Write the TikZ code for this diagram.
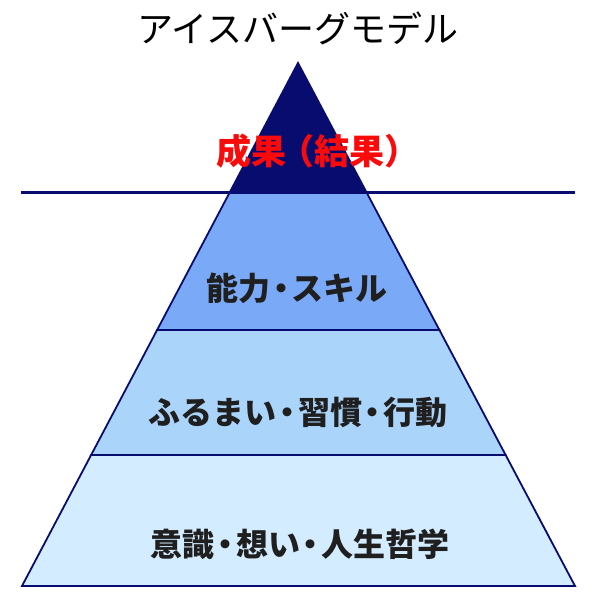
\documentclass[tikz,border=0pt]{standalone}
\usepackage{fontspec}
\setmainfont{Noto Sans CJK JP}
\usetikzlibrary{calc}
\definecolor{navy}{RGB}{8,12,110}
\definecolor{layerA}{RGB}{122,170,247}
\definecolor{layerB}{RGB}{170,212,250}
\definecolor{layerC}{RGB}{212,236,255}
\definecolor{redtxt}{RGB}{250,10,10}
\newcommand\kdot{\hspace{-0.17em}・\hspace{-0.17em}}
\newcommand\lpar{\hspace{-0.22em}（}
\newcommand\rpar{）\hspace{-0.22em}}
\begin{document}
\begin{tikzpicture}[x=1pt,y=1pt,
  layer/.style={draw=navy,line width=1.8pt,line join=miter},
  label/.style={font=\fontsize{32}{34}\selectfont\bfseries,text=black!88,inner sep=0pt},
  title/.style={font=\fontsize{36}{38}\selectfont,text=black,inner sep=0pt}]
\useasboundingbox (0,0) rectangle (595,601);
\coordinate (A) at (298,538);
\coordinate (BL) at (22,15);
\coordinate (BR) at (575,15);
\coordinate (L1) at ($(A)!0.2486!(BL)$);
\coordinate (R1) at ($(A)!0.2486!(BR)$);
\coordinate (L2) at ($(A)!0.5105!(BL)$);
\coordinate (R2) at ($(A)!0.5105!(BR)$);
\coordinate (L3) at ($(A)!0.7495!(BL)$);
\coordinate (R3) at ($(A)!0.7495!(BR)$);
% layers
\filldraw[layer,fill=navy] (A) -- (R1) -- (L1) -- cycle;
\filldraw[layer,fill=layerA] (L1) -- (R1) -- (R2) -- (L2) -- cycle;
\filldraw[layer,fill=layerB] (L2) -- (R2) -- (R3) -- (L3) -- cycle;
\filldraw[layer,fill=layerC] (L3) -- (R3) -- (BR) -- (BL) -- cycle;
% water line
\coordinate (WL) at (21,408);
\coordinate (WR) at (575,408);
\draw[navy,line width=3pt] (WL) -- (WR);
% texts
\node[title] (t) at (298,573) {アイスバーグモデル};
\node[font=\fontsize{35}{37}\selectfont\bfseries,text=redtxt,inner sep=0pt] (r) at (318,450) {成果\lpar 結果\rpar};
\node[label] (n1) at (297,313) {能力\kdot スキル};
\node[label] (n2) at (298,189) {ふるまい\kdot 習慣\kdot 行動};
\node[label] (n3) at (300,57) {意識\kdot 想い\kdot 人生哲学};
\end{tikzpicture}
\end{document}
